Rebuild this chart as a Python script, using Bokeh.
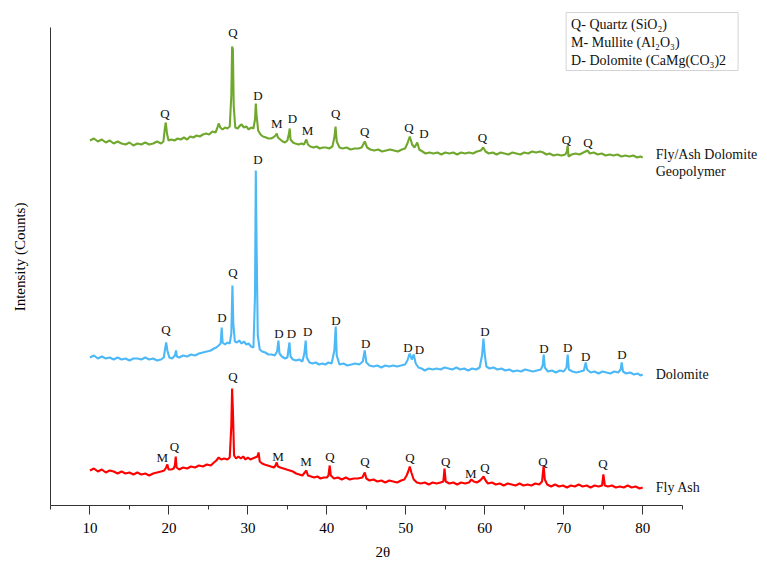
import numpy as np
from bokeh.plotting import figure
from bokeh.models import Range1d, FixedTicker, Label, ColumnDataSource, Title, LinearAxis
from bokeh.core.properties import value
from bokeh.embed import file_html
from bokeh.resources import INLINE

# ---------------- data (2θ, intensity in counts) ----------------
fly_ash = [(10.0,35),(10.5,37),(11.0,34),(11.5,36),(12.0,33),(12.5,35),(13.0,34),(13.5,32),(14.0,34),(14.5,32),(15.0,33),(15.5,31),(16.0,33),(16.5,31),(17.0,32),(17.5,30),(18.0,32),(18.5,33),(19.0,34),(19.4,35),(19.65,38),(19.8,41),(19.95,36),(20.3,36),(20.6,37),(20.75,40),(20.86,49),(20.97,38),(21.3,36),(21.8,38),(22.3,37),(22.8,39),(23.3,38),(23.8,40),(24.3,39),(24.8,41),(25.3,40),(25.7,43),(26.0,45),(26.3,48),(26.6,46),(27.0,47),(27.4,46),(27.7,48),(27.9,80),(28.0,117),(28.1,95),(28.25,50),(28.5,47),(28.8,49),(29.1,47),(29.4,49),(29.7,46),(30.0,48),(30.3,46),(30.6,47),(30.9,48),(31.2,49),(31.35,53),(31.5,44),(31.8,42),(32.1,41),(32.5,40),(32.9,39),(33.3,38),(33.5,40),(33.65,43),(33.8,39),(34.1,38),(34.5,37),(34.9,36),(35.3,35),(35.7,34),(36.1,32),(36.5,31),(36.9,30),(37.2,33),(37.4,35),(37.6,30),(38.0,29),(38.4,28),(38.8,29),(39.2,27),(39.6,28),(40.0,28),(40.2,30),(40.36,40),(40.5,30),(40.9,27),(41.4,28),(41.9,26),(42.4,28),(42.9,26),(43.4,27),(43.9,27),(44.5,28),(44.8,33),(45.0,27),(45.4,25),(45.9,26),(46.4,24),(46.9,25),(47.4,23),(47.9,25),(48.4,24),(48.9,23),(49.4,25),(49.8,26),(50.1,30),(50.3,34),(50.5,39),(50.7,33),(51.0,26),(51.4,23),(51.9,22),(52.4,23),(52.9,21),(53.4,23),(53.9,22),(54.4,23),(54.75,24),(54.9,37),(55.05,24),(55.5,22),(56.0,23),(56.5,21),(57.0,23),(57.5,22),(58.0,23),(58.3,26),(58.6,24),(59.0,23),(59.4,25),(59.65,27),(59.85,29),(60.1,25),(60.4,22),(60.9,23),(61.4,21),(61.9,22),(62.4,20),(62.9,22),(63.4,21),(63.9,20),(64.4,22),(64.9,20),(65.4,21),(65.9,20),(66.4,22),(66.9,21),(67.25,24),(67.45,40),(67.6,26),(67.9,21),(68.4,19),(68.9,21),(69.4,19),(69.9,20),(70.4,18),(70.9,20),(71.4,19),(71.9,21),(72.4,19),(72.9,20),(73.4,18),(73.9,20),(74.4,19),(74.85,20),(75.02,31),(75.2,20),(75.6,19),(76.1,20),(76.6,18),(77.1,19),(77.6,18),(78.1,20),(78.6,18),(79.1,19),(79.6,17),(80.0,18)]

dolomite = [(10.0,38),(10.5,40),(11.0,37),(11.5,39),(12.0,37),(12.5,38),(13.0,36),(13.5,38),(14.0,36),(14.5,37),(15.0,35),(15.5,37),(16.0,37),(16.5,36),(17.0,38),(17.5,36),(18.0,37),(18.5,35),(19.0,36),(19.35,38),(19.5,46),(19.65,53),(19.8,45),(20.05,38),(20.4,37),(20.75,40),(20.9,45),(21.0,39),(21.3,38),(21.8,40),(22.3,39),(22.8,41),(23.3,40),(23.8,42),(24.3,43),(24.8,44),(25.3,45),(25.7,47),(26.0,48),(26.3,50),(26.55,52),(26.68,68),(26.8,53),(27.1,51),(27.4,53),(27.7,52),(27.9,62),(28.04,110),(28.15,72),(28.35,54),(28.6,53),(28.9,55),(29.2,52),(29.5,54),(29.8,51),(30.1,52),(30.4,49),(30.7,48),(30.9,100),(31.0,225),(31.1,150),(31.25,60),(31.5,46),(31.8,44),(32.2,43),(32.6,41),(33.0,41),(33.4,40),(33.7,44),(33.86,55),(34.0,42),(34.3,39),(34.7,37),(35.0,38),(35.26,53),(35.4,39),(35.7,36),(36.1,35),(36.5,36),(36.9,34),(37.15,42),(37.32,55),(37.45,38),(37.8,33),(38.2,32),(38.6,33),(39.0,31),(39.4,32),(39.8,31),(40.2,33),(40.6,32),(40.95,45),(41.12,69),(41.25,40),(41.6,31),(42.1,32),(42.6,30),(43.1,31),(43.6,32),(44.1,31),(44.55,34),(44.79,45),(45.0,33),(45.4,30),(45.9,29),(46.4,30),(46.9,28),(47.4,30),(47.9,29),(48.4,30),(48.9,29),(49.4,30),(49.9,31),(50.2,35),(50.49,42),(50.75,36),(51.0,41),(51.25,32),(51.6,28),(52.0,27),(52.4,25),(52.9,27),(53.4,26),(53.9,27),(54.4,26),(54.9,28),(55.4,27),(55.9,26),(56.4,28),(56.9,26),(57.4,27),(57.9,25),(58.4,27),(58.9,26),(59.35,28),(59.65,40),(59.83,57),(59.98,42),(60.2,29),(60.6,27),(61.1,28),(61.6,26),(62.1,27),(62.6,25),(63.1,26),(63.6,24),(64.1,25),(64.6,24),(65.1,26),(65.6,25),(66.1,24),(66.6,25),(67.1,26),(67.33,30),(67.46,41),(67.6,28),(68.0,24),(68.5,25),(69.0,23),(69.5,25),(70.0,24),(70.35,28),(70.5,41),(70.65,26),(71.1,24),(71.6,23),(72.1,24),(72.55,25),(72.78,33),(72.95,26),(73.4,23),(73.9,24),(74.4,22),(74.9,24),(75.4,23),(75.9,22),(76.4,24),(76.9,23),(77.2,26),(77.34,33),(77.5,24),(77.9,22),(78.4,23),(78.9,21),(79.4,22),(79.7,20),(80.0,21)]

geopolymer = [(10.0,45),(10.5,47),(11.0,44),(11.5,46),(12.0,43),(12.5,45),(13.0,42),(13.5,44),(14.0,42),(14.5,41),(15.0,43),(15.5,40),(16.0,42),(16.5,41),(17.0,43),(17.5,41),(18.0,42),(18.5,44),(19.0,42),(19.3,44),(19.45,55),(19.6,63),(19.75,52),(19.95,45),(20.3,46),(20.7,45),(21.1,47),(21.5,46),(21.9,48),(22.3,46),(22.7,49),(23.1,48),(23.5,50),(23.9,49),(24.3,51),(24.7,52),(25.1,51),(25.5,54),(25.9,53),(26.1,57),(26.3,62),(26.5,58),(26.8,56),(27.1,58),(27.4,57),(27.7,59),(27.9,90),(28.0,139),(28.1,136),(28.2,80),(28.4,58),(28.7,57),(29.0,60),(29.2,61),(29.5,58),(29.8,59),(30.1,56),(30.4,58),(30.7,57),(30.9,66),(31.0,82),(31.1,70),(31.3,55),(31.6,51),(31.9,49),(32.3,48),(32.6,47),(32.9,47),(33.2,48),(33.5,50),(33.65,52),(33.8,48),(34.1,46),(34.4,44),(34.7,43),(35.0,45),(35.2,52),(35.3,57),(35.4,46),(35.7,43),(36.0,42),(36.4,41),(36.8,42),(37.1,41),(37.4,46),(37.6,41),(37.9,39),(38.3,38),(38.7,39),(39.1,37),(39.5,38),(39.9,38),(40.3,37),(40.7,39),(40.95,48),(41.1,59),(41.25,44),(41.6,38),(42.0,37),(42.5,38),(43.0,36),(43.5,37),(44.0,37),(44.4,38),(44.8,44),(45.1,38),(45.5,36),(46.0,35),(46.5,36),(47.0,34),(47.5,35),(48.0,36),(48.5,35),(49.0,34),(49.5,36),(49.9,37),(50.2,42),(50.5,49),(50.8,41),(51.1,38),(51.45,43),(51.7,36),(52.1,34),(52.5,32),(53.0,33),(53.5,32),(54.0,33),(54.5,31),(55.0,33),(55.5,32),(56.0,33),(56.5,31),(57.0,33),(57.5,32),(58.0,33),(58.5,32),(59.0,34),(59.5,35),(59.8,38),(60.1,34),(60.5,32),(61.0,33),(61.5,31),(62.0,33),(62.5,32),(63.0,31),(63.5,33),(64.0,32),(64.5,31),(65.0,33),(65.5,32),(66.0,34),(66.5,33),(67.0,34),(67.4,33),(67.8,31),(68.2,32),(68.7,30),(69.2,31),(69.7,30),(70.2,31),(70.4,34),(70.5,40),(70.6,29),(71.0,31),(71.5,32),(72.0,31),(72.5,33),(73.0,35),(73.3,32),(73.8,33),(74.3,31),(74.8,32),(75.3,30),(75.8,31),(76.3,30),(76.8,31),(77.3,29),(77.8,30),(78.3,29),(78.8,30),(79.3,28),(79.7,29),(80.0,28)]

# stacking offsets of the three patterns (counts)
offsets = {"fly_ash": 0, "dolomite": 110, "geopolymer": 320}

# phase marks: letter, 2θ, label height (counts, relative to pattern)
fa_letters = ["M","Q","Q","M","M","Q","Q","Q","Q","M","Q","Q","Q"]
fa_theta   = [19.17,20.69,28.11,33.81,37.36,40.40,44.83,50.53,55.05,58.22,60.03,67.37,74.97]
fa_height  = [47.7,59.3,129,49.3,44,49.3,44.3,47.7,44,31.7,38.3,44.3,42.3]

do_letters = ["Q","D","Q","D","D","D","D","D","D","D","D","D","D","D","D","D"]
do_theta   = [19.63,26.72,28.11,31.28,33.94,35.51,37.57,41.16,44.92,50.28,51.72,60.03,67.50,70.5,72.78,77.38]
do_height  = [66,77.7,123.3,235.7,62.3,61.7,64,75,52.3,48.3,46,64.3,47.3,48.3,39,41]

ge_letters = ["Q","Q","D","M","D","M","Q","Q","Q","D","Q","Q","Q"]
ge_theta   = [19.50,28.11,31.28,33.65,35.64,37.54,41.12,44.79,50.40,52.30,59.70,70.34,73.07]
ge_height  = [71.7,153.3,90,62.3,66.7,55,72.3,54,58.3,51.7,47.7,45.7,43.3]

x_ticks = [10, 20, 30, 40, 50, 60, 70, 80]
x_minor = [5, 15, 25, 35, 45, 55, 65, 75, 85]

legend_lines = ["Q- Quartz (SiO₂)", "M- Mullite (Al₂O₃)", "D- Dolomite (CaMg(CO₃)2"]

# ---------------- figure ----------------
FONT = "'Liberation Serif', 'Times New Roman', serif"
AX = "#333333"
W, H = 759, 581

p = figure(width=W, height=H, output_backend="svg", toolbar_location=None,
           x_range=Range1d(5, 94.79), y_range=Range1d(0, 497),
           min_border_left=50, min_border_right=0, min_border_top=8, min_border_bottom=76)
p.outline_line_color = None
p.grid.visible = False
p.background_fill_color = "white"

xa = p.xaxis[0]
xa.ticker = FixedTicker(ticks=x_ticks, minor_ticks=x_minor)
xa.bounds = (5, 85)
xa.axis_line_color = AX
xa.major_tick_line_color = AX
xa.minor_tick_line_color = AX
xa.major_tick_in = 0
xa.major_tick_out = 9
xa.minor_tick_in = 0
xa.minor_tick_out = 4
xa.major_label_standoff = 8
xa.major_label_text_font = FONT
xa.major_label_text_font_size = "15px"
xa.major_label_text_color = "black"

ya = p.yaxis[0]
ya.ticker = FixedTicker(ticks=[])
ya.bounds = (0, 478)
ya.axis_line_color = AX
ya.major_tick_line_color = None
ya.minor_tick_line_color = None
ya.major_label_standoff = 0
ya.major_label_text_font_size = "0px"
ya.axis_label = "Intensity (Counts)"
ya.axis_label_text_font = FONT
ya.axis_label_text_font_size = "15px"
ya.axis_label_text_font_style = "normal"
ya.axis_label_text_color = "black"
ya.axis_label_standoff = 23

# invisible spacer below the x axis, so that the x title sits lower
spacer = LinearAxis(ticker=FixedTicker(ticks=[]), axis_line_color=None,
                    major_tick_line_color=None, minor_tick_line_color=None,
                    major_tick_in=0, major_tick_out=13, minor_tick_in=0, minor_tick_out=0,
                    major_label_standoff=0, major_label_text_font_size="0px")
p.add_layout(spacer, "below")

# x-axis title, sitting a little left of the frame centre as in the original
p.add_layout(Title(text="2θ", align="left", offset=325, standoff=12,
                   text_font=FONT, text_font_size="15px", text_font_style="normal",
                   text_color="black"), "below")

series = [
    ("fly_ash", fly_ash, "#FF0000", fa_letters, fa_theta, fa_height),
    ("dolomite", dolomite, "#4DB8F7", do_letters, do_theta, do_height),
    ("geopolymer", geopolymer, "#70A82E", ge_letters, ge_theta, ge_height),
]

for key, pts, color, letters, thetas, heights in series:
    off = offsets[key]
    xs = np.array([a for a, b in pts], dtype=float)
    ys = np.array([b for a, b in pts], dtype=float) + off
    p.line(xs, ys, line_color=color, line_width=2.1)
    src = ColumnDataSource(dict(x=thetas, y=[h + off for h in heights], t=letters))
    p.text(x="x", y="y", text="t", source=src, text_font=value(FONT),
           text_font_size="13px", text_align="center", text_baseline="middle",
           text_color="#111111")

# pattern names at the right end of each pattern
end_x = 81.65
names = dict(x=[end_x, end_x, end_x, end_x],
             y=[fly_ash[-1][1] + offsets["fly_ash"],
                dolomite[-1][1] + offsets["dolomite"],
                geopolymer[-1][1] + offsets["geopolymer"] + 3,
                geopolymer[-1][1] + offsets["geopolymer"] - 14],
             t=["Fly Ash", "Dolomite", "Fly/Ash Dolomite", "Geopolymer"])
p.text(x="x", y="y", text="t", source=ColumnDataSource(names), text_font=value(FONT),
       text_font_size="14px", text_align="left", text_baseline="middle", text_color="#111111")

legend = Label(x=70.3, y=493, text="\n".join(legend_lines),
               text_font=FONT, text_font_size="14px", text_color="#111111",
               text_align="left", text_baseline="top", text_line_height=1.2,
               border_line_color="#d4d4d4", border_line_width=1,
               background_fill_color="white",
               padding=dict(left=5, right=12, top=4, bottom=3))
p.add_layout(legend)

open("out.html", "w").write(file_html(p, INLINE))
